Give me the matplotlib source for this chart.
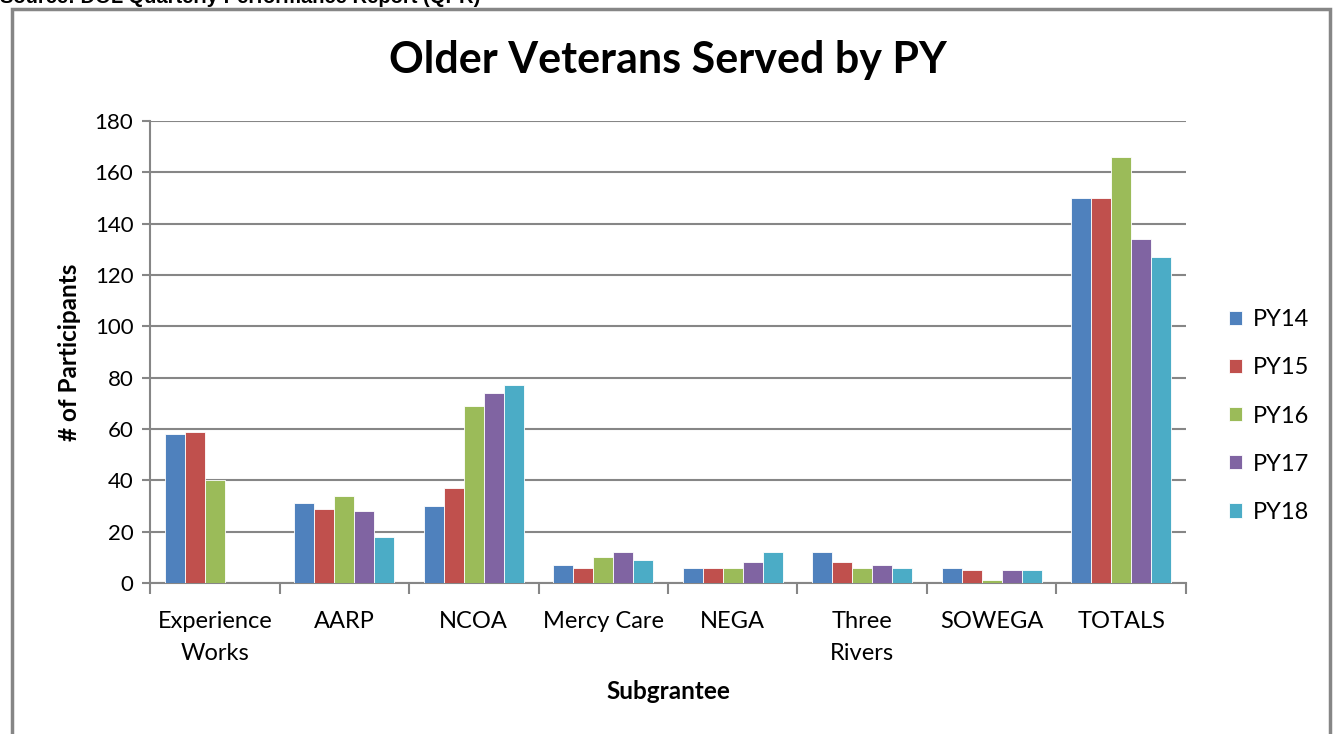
import matplotlib.pyplot as plt
import numpy as np
from matplotlib.patches import Rectangle

groups = ["Experience\nWorks", "AARP", "NCOA", "Mercy Care", "NEGA",
          "Three\nRivers", "SOWEGA", "TOTALS"]
series_names = ["PY14", "PY15", "PY16", "PY17", "PY18"]
py14 = [58, 31, 30, 7, 6, 12, 6, 150]
py15 = [59, 29, 37, 6, 6, 8, 5, 150]
py16 = [40, 34, 69, 10, 6, 6, 1, 166]
py17 = [0, 28, 74, 12, 8, 7, 5, 134]
py18 = [0, 18, 77, 9, 12, 6, 5, 127]
colors = ["#4F81BD", "#C0504D", "#9BBB59", "#8064A2", "#4BACC6"]

plt.rcParams['font.family'] = ['Lato', 'DejaVu Sans']
grid_col = "#868686"

fig = plt.figure(figsize=(13.35, 7.34), dpi=100)
ax = fig.add_axes([150 / 1335, 1 - 583 / 734, 1036 / 1335, 462 / 734])

x = np.arange(len(groups))
bw = 0.154
for i, (name, vals) in enumerate(zip(series_names, [py14, py15, py16, py17, py18])):
    ax.bar(x + (i - 2) * bw, vals, bw, color=colors[i], label=name,
           edgecolor="white", linewidth=0.6, zorder=3)

ax.set_xlim(-0.5, len(groups) - 0.5)
ax.set_ylim(0, 180)
ax.set_yticks(range(0, 181, 20))
ax.yaxis.grid(True, color=grid_col, linewidth=1.5, zorder=0)
ax.set_axisbelow(True)

ax.set_xticks(x)
ax.set_xticklabels(groups, fontsize=17, linespacing=1.65)
ax.set_xticks(np.arange(-0.5, len(groups)), minor=True)
ax.tick_params(axis='x', which='major', length=0, pad=20)
ax.tick_params(axis='x', which='minor', length=8, width=1.5, color=grid_col)
ax.tick_params(axis='y', length=6, width=1.5, color=grid_col, labelsize=16, pad=6)

for s in ["top", "right"]:
    ax.spines[s].set_visible(False)
for s in ["left", "bottom"]:
    ax.spines[s].set_color(grid_col)
    ax.spines[s].set_linewidth(1.5)

ax.set_ylabel("# of Participants", fontsize=17.5, fontweight="bold", labelpad=10)
ax.set_xlabel("Subgrantee", fontsize=17.5, fontweight="bold", labelpad=12)

fig.text(668 / 1335, 1 - 60 / 734, "Older Veterans Served by PY", fontsize=31,
         fontweight="bold", ha="center", va="center")

ax.legend(loc="center left", bbox_to_anchor=(1208 / 1335, 1 - 416 / 734),
          bbox_transform=fig.transFigure, frameon=False, fontsize=17,
          handlelength=0.55, handleheight=0.55, labelspacing=1.15, handletextpad=0.45)

fig.patches.append(Rectangle((12 / 1335, -0.05), 1318 / 1335, 1.05 - 9 / 734,
                             transform=fig.transFigure, fill=False,
                             edgecolor=grid_col, linewidth=2.5))
fig.text(0, 1 - 3 / 734, "Source: DOL Quarterly Performance Report (QPR)",
         fontsize=14.5, fontweight="bold", family="Liberation Sans",
         ha="left", va="baseline")

fig.savefig("out.png", dpi=100)
